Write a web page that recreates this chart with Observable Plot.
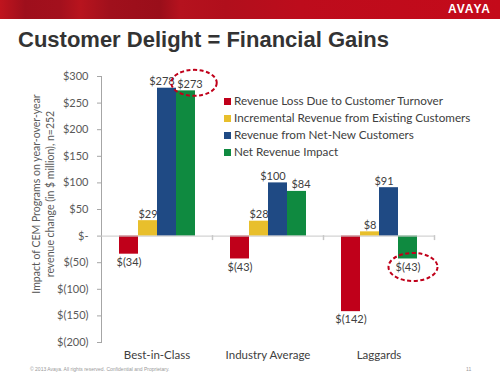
<!DOCTYPE html>
<html>
<head>
<meta charset="utf-8">
<script src="https://cdn.jsdelivr.net/npm/d3@7"></script>
<script src="https://cdn.jsdelivr.net/npm/@observablehq/plot@0.6"></script>
<style>
  html, body { margin: 0; padding: 0; background: #fff; }
  #wrap { position: relative; width: 500px; height: 375px; overflow: hidden; background: #fff; font-family: Lato, "Liberation Sans", sans-serif; }
  #bar { position: absolute; left: 0; top: 0; width: 500px; height: 19px;
    background: linear-gradient(90deg, #c0141e 0%, #9e0f1c 5%, #a3101d 12%, #b8141e 16%, #a0101c 22%, #9a0e1a 32%, #b5121e 36%, #b10f1c 45%, #bd0c1c 60%, #c40a1a 100%); }
  #logo { position: absolute; right: 9px; top: 2px; color: #fff; font-family: "Liberation Sans", Arial, sans-serif; font-weight: bold; font-size: 12px; letter-spacing: 1px; }
  #title { position: absolute; left: 18px; top: 29px; font-family: "Liberation Sans", Arial, sans-serif; font-weight: bold; font-size: 22px; line-height: 22px; color: #333; white-space: nowrap; }
  #chart { position: absolute; left: 0; top: 60px; }
  #ytitle { position: absolute; left: 43px; top: 194px; transform: translate(-50%, -50%) rotate(-90deg); text-align: center; font-size: 10.5px; line-height: 14px; color: #595959; white-space: nowrap; }
  #legend { position: absolute; left: 224px; top: 93px; font-size: 11.7px; color: #404040; }
  #legend .row { height: 17px; line-height: 14px; white-space: nowrap; }
  #legend .sw { display: inline-block; width: 7px; height: 7px; margin-right: 3px; vertical-align: 0px; }
  #footer { position: absolute; left: 30px; top: 366px; font-size: 5px; color: #9a9a9a; font-family: "Liberation Sans", Arial, sans-serif; }
  #page { position: absolute; left: 466px; top: 366px; font-size: 5px; color: #9a9a9a; font-family: "Liberation Sans", Arial, sans-serif; }
</style>
</head>
<body>
<div id="wrap">
  <div id="bar"></div>
  <div id="logo">AVAYA</div>
  <div id="title">Customer Delight = Financial Gains</div>
  <div id="chart"></div>
  <div id="ytitle">Impact of CEM Programs on year-over-year<br>revenue change (in $ million), n=252</div>
  <div id="legend"></div>
  <div id="footer">© 2013 Avaya. All rights reserved. Confidential and Proprietary.</div>
  <div id="page">11</div>
</div>
<script>
const categories = ["Best-in-Class", "Industry Average", "Laggards"];
const series = [
  "Revenue Loss Due to Customer Turnover",
  "Incremental Revenue from Existing Customers",
  "Revenue from Net-New Customers",
  "Net Revenue Impact"
];
const revenueLoss = [-34, -43, -142];
const incremental = [29, 28, 8];
const netNew = [278, 100, 91];
const netImpact = [273, 84, -43];
const colors = ["#c0001a", "#e8bf2c", "#1f4a84", "#0f8a40"];
const yTicks = [-200, -150, -100, -50, 0, 50, 100, 150, 200, 250, 300];
const highlighted = [
  {category: "Best-in-Class", series: "Net Revenue Impact", value: 273},
  {category: "Laggards", series: "Net Revenue Impact", value: -43}
];

const seriesValues = [revenueLoss, incremental, netNew, netImpact];
const data = categories.flatMap((c, i) =>
  seriesValues.map((arr, j) => ({category: c, series: series[j], value: arr[i]})));

const fmt = v => v === 0 ? "$-" : v < 0 ? `$(${-v})` : `$${v}`;

const ellipse = {
  draw(ctx, size) {
    const r = Math.sqrt(size / Math.PI);
    const rx = r * 1.75, ry = r, k = 0.5523;
    ctx.moveTo(rx, 0);
    ctx.bezierCurveTo(rx, ry * k, rx * k, ry, 0, ry);
    ctx.bezierCurveTo(-rx * k, ry, -rx, ry * k, -rx, 0);
    ctx.bezierCurveTo(-rx, -ry * k, -rx * k, -ry, 0, -ry);
    ctx.bezierCurveTo(rx * k, -ry, rx, -ry * k, rx, 0);
    ctx.closePath();
  }
};
const tickSym = {
  draw(ctx, size) {
    ctx.moveTo(0, -1);
    ctx.lineTo(0, 4);
  }
};

const labelStyle = {fx: "category", x: "series", y: "value", text: d => fmt(d.value), fill: "#404040", fontSize: 11};
const pos = data.filter(d => d.value >= 0);
const neg = data.filter(d => d.value < 0);

const chart = Plot.plot({
  width: 500,
  height: 305,
  marginLeft: 100,
  marginRight: 66,
  marginTop: 16,
  marginBottom: 23,
  style: {fontFamily: "Lato, sans-serif", fontSize: "11px", color: "#595959", background: "transparent"},
  fx: {domain: categories, padding: 0, label: null},
  x: {domain: series, paddingInner: 0, paddingOuter: 0.78, axis: null},
  y: {domain: [-200, 300]},
  color: {domain: series, range: colors},
  marks: [
    Plot.axisY({ticks: yTicks, tickFormat: fmt, tickSize: 4, tickPadding: 9, label: null, stroke: "#a6a6a6", fill: "#595959", fontSize: 11}),
    Plot.axisFx({anchor: "bottom", tickSize: 0, tickPadding: 8, label: null, fill: "#404040", fontSize: 11.5}),
    Plot.frame({anchor: "left", facetAnchor: "left", stroke: "#a6a6a6"}),
    Plot.barY(data, {fx: "category", x: "series", y: "value", fill: "series"}),
    Plot.ruleY([0], {stroke: "#c8c8c8"}),
    Plot.dot([0], {y: d => d, frameAnchor: "right", symbol: tickSym, stroke: "#c8c8c8", r: 3}),
    Plot.text(pos.filter(d => d.series !== series[2] && d.series !== series[3]), {...labelStyle, lineAnchor: "bottom", dy: -3}),
    Plot.text(pos.filter(d => d.series === series[2]), {...labelStyle, lineAnchor: "bottom", dy: -3, dx: -5}),
    Plot.text(pos.filter(d => d.series === series[3]), {...labelStyle, lineAnchor: "bottom", dy: -3, dx: 4}),
    Plot.text(neg, {...labelStyle, lineAnchor: "top", dy: 4}),
    Plot.dot(highlighted.filter(d => d.value >= 0), {fx: "category", x: "series", y: "value", symbol: ellipse, r: 13, dx: 8, dy: -8, stroke: "#c0001a", strokeWidth: 2, strokeDasharray: "4,2.5", fill: "none"}),
    Plot.dot(highlighted.filter(d => d.value < 0), {fx: "category", x: "series", y: "value", symbol: ellipse, r: 14, dx: 5, dy: 8, stroke: "#c0001a", strokeWidth: 2, strokeDasharray: "4,2.5", fill: "none"})
  ]
});
document.getElementById("chart").appendChild(chart);

const legend = document.getElementById("legend");
series.forEach((s, i) => {
  const row = document.createElement("div");
  row.className = "row";
  const sw = document.createElement("span");
  sw.className = "sw";
  sw.style.background = colors[i];
  row.appendChild(sw);
  row.appendChild(document.createTextNode(s));
  legend.appendChild(row);
});
</script>
</body>
</html>
